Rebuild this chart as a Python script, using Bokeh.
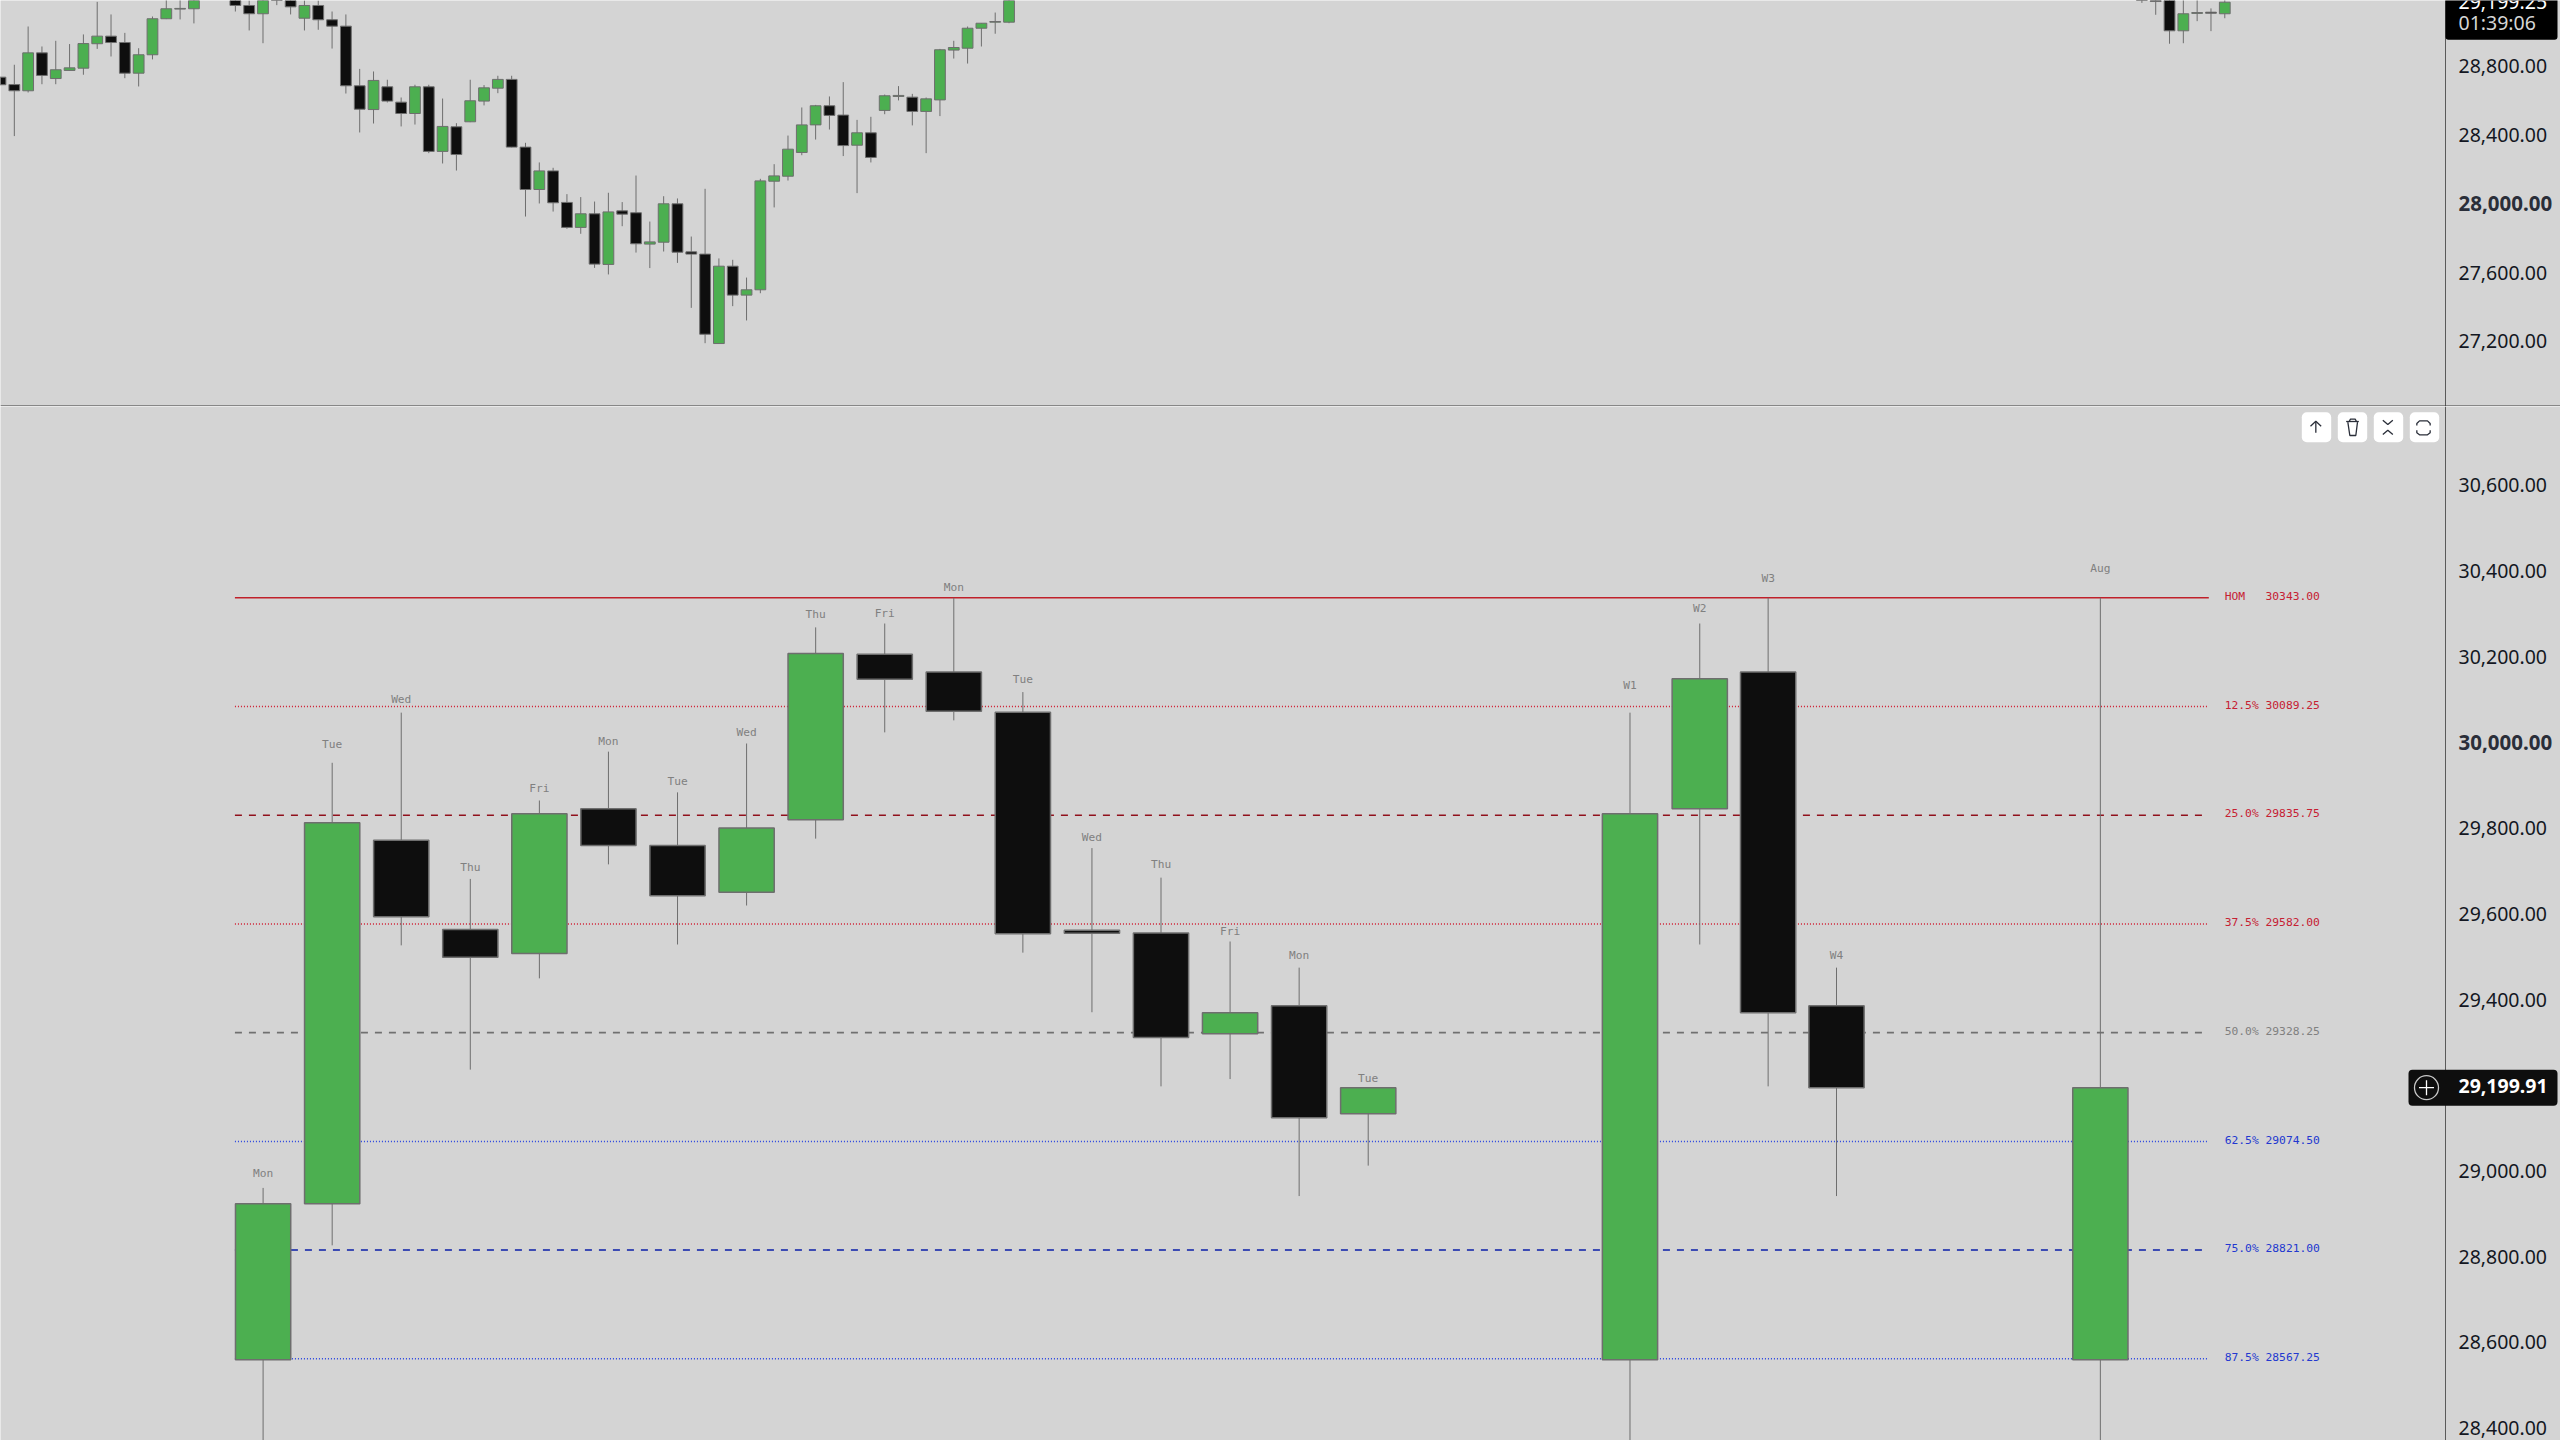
from bokeh.plotting import figure
from bokeh.layouts import column
from bokeh.models import Range1d, FixedTicker, NumeralTickFormatter, BoxAnnotation, Label
from bokeh.core.properties import value
from bokeh.embed import file_html
from bokeh.resources import INLINE

# ---------- upper pane: daily candles ----------
idx = [0,1,2,3,4,5,6,7,8,9,10,11,12,13,14,17,18,19,20,21,22,23,24,25,26,27,28,29,30,31,32,33,34,35,36,37,38,39,40,41,42,43,44,45,46,47,48,49,50,51,52,53,54,55,56,57,58,59,60,61,62,63,64,65,66,67,68,69,70,71,72,73,155,156,157,158,159,160,161]
tops = [28748,28705,28889,28889,28791,28802,28943,28986,28986,28949,28878,29087,29145,29147,29203,29212,29164,29203,29260,29212,29164,29164,29081,29044,28698,28729,28692,28603,28692,28692,28462,28460,28611,28686,28735,28735,28342,28204,28204,28021,27955,27955,27966,27972,27961,27792,28013,28013,27734,27721,27651,27651,27514,28146,28175,28330,28471,28582,28582,28528,28425,28425,28640,28642,28632,28622,28907,28920,29032,29061,29071,29203,29270,29199,29212,29116,29123,29125,29183]
bots = [28704,28669,28669,28758,28740,28787,28800,28942,28949,28771,28771,28878,29087,29143,29145,29164,29116,29116,29215,29156,29090,29081,29044,28698,28562,28560,28609,28537,28537,28317,28317,28299,28489,28609,28684,28342,28096,28096,28019,27876,27876,27663,27661,27953,27781,27779,27790,27732,27721,27256,27202,27483,27483,27514,28144,28173,28311,28471,28526,28351,28353,28282,28555,28636,28549,28549,28616,28905,28916,29032,29067,29067,29215,29187,29017,29017,29118,29119,29116]
highs = [28752,28820,29042,28926,28959,28940,28996,29185,29112,29005,28916,29100,29212,29230,29240,29230,29193,29240,29280,29240,29193,29193,29129,29112,28796,28781,28733,28630,28704,28704,28624,28481,28733,28702,28756,28756,28367,28253,28222,28069,28052,28026,28077,28023,28177,27910,28057,28044,27823,28100,27696,27688,27585,28158,28243,28409,28572,28587,28636,28719,28500,28518,28647,28696,28651,28630,28912,28959,29042,29061,29123,29240,29290,29230,29240,29240,29200,29147,29230]
lows = [28700,28406,28659,28707,28707,28787,28762,28912,28868,28742,28694,28851,29085,29083,29060,29129,29019,28945,29166,29112,29019,29023,28914,28653,28427,28479,28601,28462,28473,28307,28247,28206,28487,28584,28655,28340,27939,28015,27968,27868,27839,27641,27603,27883,27730,27640,27736,27670,27409,27204,27200,27419,27336,27494,27992,28148,28295,28386,28444,28290,28075,28253,28533,28613,28468,28307,28522,28856,28827,28926,29000,29061,29179,29110,28942,28945,29073,29015,29090]
up = ["B","B","G","B","G","G","G","G","B","B","G","G","G","G","G","B","B","G","B","B","G","B","B","B","B","G","B","B","G","B","G","B","G","G","G","B","B","G","B","B","G","B","G","B","B","G","G","B","B","B","G","B","G","G","G","G","G","G","B","B","G","B","G","G","B","G","G","G","G","G","G","G","B","B","B","G","G","B","G"]
top_ticks = [28800, 28400, 28000, 27600, 27200]

# ---------- lower pane: higher-timeframe candles ----------
slots = [0,1,2,3,4,5,6,7,8,9,10,11,12,13,14,15,16,19.79,20.8,21.79,22.78,26.6]
names = ["Mon","Tue","Wed","Thu","Fri","Mon","Tue","Wed","Thu","Fri","Mon","Tue","Wed","Thu","Fri","Mon","Tue","W1","W2","W3","W4","Aug"]
name_levels = [28999,30000,30106,29713,29897,30008,29914,30029,30305,30307,30367,30153,29784,29720,29564,29508,29221,30138,30319,30389,29509,30412]
b_tops = [28929,29818,29777,29569,29839,29851,29765,29806,30213,30211,30170,30076,29567,29561,29375,29391,29199.91,29839,30154,30170,29391,29199.91]
b_bots = [28565,28929,29599,29504,29513,29765,29648,29656,29825,30153,30078,29559,29560,29317,29326,29130,29139,28565,29851,29375,29200,28565]
b_highs = [28966,29958,30075,29687,29870,29984,29889,30003,30274,30283,30343,30123,29759,29690,29541,29480,29199.91,30075,30283,30343,29480,30343]
b_lows = [28300,28832,29532,29242,29455,29721,29534,29625,29781,30029,30057,29515,29376,29203,29220,28947,29018,28300,29534,29203,28947,28300]
b_kind = ["G","G","B","B","G","B","B","G","G","B","B","B","B","B","G","B","G","G","G","B","B","G"]
low_ticks = [30600,30400,30200,30000,29800,29600,29400,29000,28800,28600,28400]

level_names = ["HOM\u00a0\u00a0","12.5%","25.0%","37.5%","50.0%","62.5%","75.0%","87.5%"]
level_prices = [30343.00,30089.25,29835.75,29582.00,29328.25,29074.50,28821.00,28567.25]
level_line = ["#c0202a","#d01c30","#90101c","#d01c30","#707070","#2a45e0","#0a1ea8","#2a45e0"]
level_text = ["#c62033","#c62033","#c62033","#c62033","#808080","#2238d0","#2238d0","#2238d0"]
level_dash = ["solid","1 2","7 7","1 2","7 7","1 2","7 7","1 2"]
level_width = [1.5,1.5,1.5,1.5,1.8,1.5,1.5,1.5]

current_price = "29,199.91"
last_price = "29,199.25"
countdown = "01:39:06"

BG, GREEN, BLACK, EDGE = "#d4d4d4", "#4caf50", "#0e0e0e", "#6e6e6e"
AXIS_FONT = "Noto Sans"
MONO = "DejaVu Sans Mono"
W, H1, H2 = 2560, 406, 1034


def make(h, yr, xr, ticks, axis_x, lift):
    p = figure(width=W, height=h, x_range=xr, y_range=yr, x_axis_type=None,
               y_axis_location="right", output_backend="svg", toolbar_location=None,
               min_border_left=0, min_border_top=0, min_border_bottom=0, min_border_right=0,
               background_fill_color=BG, border_fill_color=BG, outline_line_color=None)
    p.grid.visible = False
    p.extra_y_ranges = {"ax": Range1d(yr.start - lift, yr.end - lift)}
    ax = p.yaxis[0]
    ax.y_range_name = "ax"
    ax.fixed_location = axis_x
    ax.ticker = FixedTicker(ticks=ticks)
    ax.formatter = NumeralTickFormatter(format="0,0.00")
    ax.major_label_overrides = {t: "" for t in ticks if t in (28000, 30000)}
    ax.major_label_text_font = AXIS_FONT
    ax.major_label_text_font_size = "19.5px"
    ax.major_label_text_color = "#131722"
    ax.major_label_standoff = 13
    ax.major_tick_line_color = None
    ax.minor_tick_line_color = None
    ax.major_tick_out = 0
    ax.major_tick_in = 0
    ax.axis_line_color = "#5a5a5a"
    ax.axis_line_width = 1
    return p


def strong_tick(p, v):
    p.add_layout(Label(x=2458, y=v, x_units="canvas", y_units="data", y_range_name="ax",
                       text=f"{v:,.2f}", text_font=AXIS_FONT, text_font_size="20.5px",
                       text_font_style="bold", text_color="#2a2e39", text_baseline="middle"))


def candles(p, xs, t, b, hi, lo, kind, width, lw):
    p.segment(xs, hi, xs, lo, line_color=EDGE, line_width=1)
    colors = [GREEN if k == "G" else BLACK for k in kind]
    p.vbar(x=xs, top=t, bottom=b, width=width, fill_color=colors, line_color=EDGE, line_width=lw)


def canvas_box(p, left, right, top, bottom, color, radius=0):
    p.add_layout(BoxAnnotation(left=left, right=right, top=top, bottom=bottom, left_units="canvas",
                               right_units="canvas", top_units="canvas", bottom_units="canvas",
                               fill_color=color, fill_alpha=1, line_color=None, border_radius=radius))


# upper pane
p1 = make(H1, Range1d(26836.6, 29192.9), Range1d(0, 185.3), top_ticks, 176.98, 13.9)
candles(p1, idx, tops, bots, highs, lows, up, 0.78, 1)
strong_tick(p1, 28000)
canvas_box(p1, 2445, 2557, -5, 39.3, "#000000", 3)
p1.add_layout(Label(x=2458, y=22.3, x_units="canvas", y_units="canvas", text=countdown,
                    text_font=AXIS_FONT, text_font_size="19.5px", text_color="#d6d6d6",
                    text_baseline="middle"))
p1.add_layout(Label(x=2458, y=1, x_units="canvas", y_units="canvas", text=last_price,
                    text_font=AXIS_FONT, text_font_size="19.5px", text_color="#ffffff",
                    text_baseline="middle"))
canvas_box(p1, 0, 2560, 405, 406, "#3a3a3a")

# lower pane
p2 = make(H2, Range1d(28376.6, 30789.4), Range1d(-3.802, 33.262), low_ticks, 31.597, 5.6)
for pr, col, dash, lw in zip(level_prices, level_line, level_dash, level_width):
    p2.segment([-0.408], [pr], [28.17], [pr], line_color=col, line_dash=dash, line_width=lw)
p2.text([28.40] * len(level_prices), level_prices,
        text=[f"{n} {v:.2f}" for n, v in zip(level_names, level_prices)],
        text_font=value(MONO), text_font_size="11.3px", text_color=level_text,
        text_baseline="middle", y_offset=-1.2)
candles(p2, slots, b_tops, b_bots, b_highs, b_lows, b_kind, 0.8, 1.5)
p2.text(slots, name_levels, text=names, text_font=value(MONO), text_font_size="11.2px",
        text_color="#808080", text_align="center", text_baseline="middle")
strong_tick(p2, 30000)


# ----- interface chrome (buttons, price tag) placed in window pixels -----
def cx(x):
    return (x - 262.6) / 69.07


def cy(y):
    return 30343 - (y - 597.3) * 2.3334


for bx in (2301.3, 2337.3, 2373.3, 2409.3):
    canvas_box(p2, bx, bx + 29.4, 411.7 - 406, 441.7 - 406, "#ffffff", 5)

ICONS = [
    [(76, 48), (76, 82)], [(60, 62), (76, 47), (92, 62)],
    [(167, 48), (205, 48)], [(176, 48), (180, 41), (194, 41), (198, 48)],
    [(172, 50), (178, 90), (196, 90), (201, 50)],
    [(277, 44), (292, 57), (307, 44)], [(277, 87), (292, 74), (307, 87)],
    [(379, 60), (379, 54), (387, 46), (411, 46), (419, 54), (419, 60)],
    [(379, 74), (379, 82), (387, 88), (411, 88), (419, 82), (419, 74)],
]
p2.multi_line([[cx(2290 + a / 3) for a, _ in s] for s in ICONS],
              [[cy(405 + b / 3) for _, b in s] for s in ICONS],
              line_color="#2a2e39", line_width=1.3, level="overlay")

canvas_box(p2, 2408, 2557, 1069.3 - 406, 1105.3 - 406, BLACK, 4)
p2.scatter([cx(2426)], [29199.91], marker="circle", size=24, fill_color=None,
           line_color="#c8c8c8", line_width=1.3, level="overlay")
p2.scatter([cx(2426)], [29199.91], marker="cross", size=15, line_color="#ffffff",
           line_width=1.3, level="overlay")
p2.add_layout(Label(x=2458, y=1085 - 406, x_units="canvas", y_units="canvas", text=current_price,
                    text_font=AXIS_FONT, text_font_size="19.5px", text_font_style="bold",
                    text_color="#ffffff", text_baseline="middle"))

page = column(p1, p2, spacing=0)
open("out.html", "w").write(file_html(page, INLINE))
